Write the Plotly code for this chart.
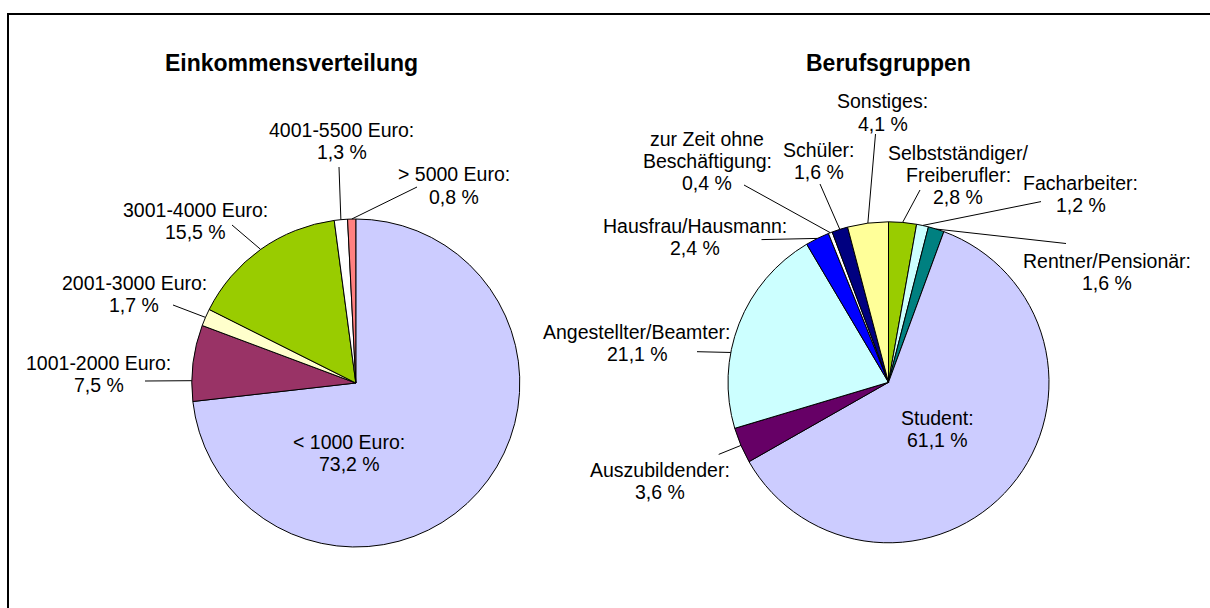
import math
import plotly.graph_objects as go

W, H = 1210, 608

# ---------------- data ----------------
inc_title = "Einkommensverteilung"
inc_labels = ["< 1000 Euro", "1001-2000 Euro", "2001-3000 Euro", "3001-4000 Euro",
              "4001-5500 Euro", "> 5000 Euro"]
inc_values = [73.2, 7.5, 1.7, 15.5, 1.3, 0.8]
inc_colors = ["#CCCCFF", "#993366", "#FFFFCC", "#99CC00", "#FFFFFF", "#FF8080"]

job_title = "Berufsgruppen"
job_labels = ["Selbstständiger/<br>Freiberufler", "Facharbeiter", "Rentner/Pensionär",
              "Student", "Auszubildender", "Angestellter/Beamter", "Hausfrau/Hausmann",
              "zur Zeit ohne<br>Beschäftigung", "Schüler", "Sonstiges"]
job_values = [2.8, 1.2, 1.6, 61.1, 3.6, 21.1, 2.4, 0.4, 1.6, 4.1]
job_colors = ["#99CC00", "#CCFFFF", "#008080", "#CCCCFF", "#660066", "#CCFFFF",
              "#0000FF", "#FFFFFF", "#000080", "#FFFF99"]

# ---------------- layout / style (pixels) ----------------
FONT = "Liberation Sans, Arial, sans-serif"
LABEL_SIZE = 19.5
LINE_GAP = 22.0
TITLE_SIZE = 23

inc_geom = dict(cx=355.8, cy=383.0, r=164.0)
job_geom = dict(cx=888.5, cy=382.3, r=160.5)

inc_title_pos = (291, 63)
job_title_pos = (888, 63)

inc_label_pos = [(349, 452.5), (98.5, 374), (134, 294), (195, 221), (341.6, 141), (453.5, 185.5)]
inc_leader_from = [None, (145, 381), (173, 305), (232, 225), (339, 167), (417, 187)]
inc_anchor_frac = [0.5, 0.27, 0.5, 0.5, 0.5, 0.5]

job_label_pos = [(958, 175), (1080.5, 194), (1107, 272), (937.7, 429), (660, 481),
                 (637, 343), (695, 236.5), (707, 161), (819, 160.5), (883, 112.5)]
job_leader_from = [(920, 190), (1041, 201.6), (1066, 243.5), None, (718.7, 454.4),
                   (697, 351.7), (761.5, 239.6), (744, 185), (820, 184), (875.5, 134)]
job_anchor_frac = [0.5, 0.5, 0.5, 0.5, 0.5, 0.36, 0.5, 0.5, 0.5, 0.5]


def px(x):
    return x / W


def py(y):
    return 1 - y / H


def domain(g):
    return dict(x=[px(g["cx"] - g["r"]), px(g["cx"] + g["r"])],
                y=[py(g["cy"] + g["r"]), py(g["cy"] - g["r"])])


def fmt(v):
    return f"{v:.1f}".replace(".", ",") + " %"


fig = go.Figure()
for labels, values, colors, g in [(inc_labels, inc_values, inc_colors, inc_geom),
                                  (job_labels, job_values, job_colors, job_geom)]:
    fig.add_trace(go.Pie(
        labels=labels, values=values, sort=False, direction="clockwise", rotation=0,
        marker=dict(colors=colors, line=dict(color="black", width=1)),
        textinfo="none", hoverinfo="skip", showlegend=False, domain=domain(g),
    ))

annotations = []
shapes = []

for title, (tx, ty) in [(inc_title, inc_title_pos), (job_title, job_title_pos)]:
    annotations.append(dict(x=px(tx), y=py(ty), xref="paper", yref="paper",
                            text=f"<b>{title}</b>", showarrow=False,
                            xanchor="center", yanchor="middle",
                            font=dict(family=FONT, size=TITLE_SIZE, color="black")))

for labels, values, g, pos, lead, frac in [
        (inc_labels, inc_values, inc_geom, inc_label_pos, inc_leader_from, inc_anchor_frac),
        (job_labels, job_values, job_geom, job_label_pos, job_leader_from, job_anchor_frac)]:
    total = sum(values)
    cum = 0.0
    for lab, v, (lx, ly), lf, f in zip(labels, values, pos, lead, frac):
        ang = math.radians(360.0 * (cum + f * v) / total)
        ex = g["cx"] + g["r"] * math.sin(ang)
        ey = g["cy"] - g["r"] * math.cos(ang)
        cum += v
        lines = f"{lab}:<br>{fmt(v)}".split("<br>")
        n = len(lines)
        for i, line in enumerate(lines):
            yy = ly + (i - (n - 1) / 2.0) * LINE_GAP
            annotations.append(dict(x=px(lx), y=py(yy), xref="paper", yref="paper",
                                    text=line, showarrow=False,
                                    xanchor="center", yanchor="middle", align="center",
                                    font=dict(family=FONT, size=LABEL_SIZE, color="black")))
        if lf is not None:
            shapes.append(dict(type="line", xref="paper", yref="paper",
                               x0=px(lf[0]), y0=py(lf[1]), x1=px(ex), y1=py(ey),
                               line=dict(color="black", width=1)))

# outer frame (right and bottom edges lie outside the picture)
shapes.append(dict(type="rect", xref="paper", yref="paper",
                   x0=px(8), y0=py(620), x1=px(1220), y1=py(14),
                   line=dict(color="black", width=2), fillcolor="rgba(0,0,0,0)"))

fig.update_layout(
    width=W, height=H, autosize=False,
    margin=dict(l=0, r=0, t=0, b=0, pad=0),
    paper_bgcolor="white", plot_bgcolor="white",
    annotations=annotations, shapes=shapes,
    font=dict(family=FONT, color="black"),
)

fig.write_html("out.html", config={"displayModeBar": False},
               post_script="document.body.style.margin='0';"
                           "document.body.style.overflow='hidden';")
